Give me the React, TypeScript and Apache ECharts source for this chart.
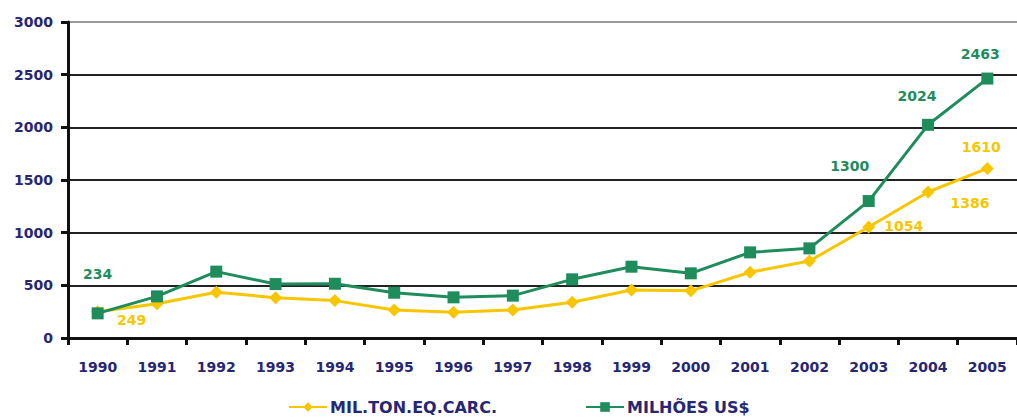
import React, { useEffect, useRef } from "react";
import * as echarts from "echarts";

const years = ["1990","1991","1992","1993","1994","1995","1996","1997","1998","1999","2000","2001","2002","2003","2004","2005"];
const milTon = [249, 325, 435, 383, 355, 266, 244, 266, 339, 456, 448, 624, 731, 1054, 1386, 1610];
const milhoes = [234, 395, 630, 512, 515, 430, 386, 402, 557, 677, 614, 813, 851, 1300, 2024, 2463];
const yellowLabelIdx = [0, 13, 14, 15];
const greenLabelIdx = [0, 13, 14, 15];
const yellowOffsets: Record<number, [number, number]> = { 0: [34, 8], 13: [35, -1], 14: [42, 11], 15: [-6, -21] };
const greenOffsets: Record<number, [number, number]> = { 0: [0, -39], 13: [-19, -35], 14: [-11, -29], 15: [-7, -25] };

const NAVY = "#262673";
const GREEN = "#1f8c5c";
const YELLOW = "#f7c600";
const FONT = "DejaVu Sans";

function buildData(vals: number[], idx: number[], offs: Record<number, [number, number]>, color: string) {
  return vals.map((v, i) => {
    if (!idx.includes(i)) return v;
    return {
      value: v,
      label: {
        show: true,
        position: "inside",
        offset: offs[i],
        formatter: String(v),
        color,
        fontFamily: FONT,
        fontWeight: "bold",
        fontSize: 14,
      },
    };
  });
}

export default function App() {
  const ref = useRef<HTMLDivElement>(null);
  useEffect(() => {
    if (!ref.current) return;
    const chart = echarts.init(ref.current, null, { renderer: "svg" });
    chart.setOption({
      animation: false,
      backgroundColor: "#ffffff",
      grid: { left: 68, top: 22, width: 960, height: 316 },
      legend: {
        left: 288,
        top: 398,
        padding: 0,
        itemGap: 88,
        itemWidth: 38,
        itemHeight: 12,
        textStyle: { color: NAVY, fontFamily: FONT, fontWeight: "bold", fontSize: 16, lineHeight: 18, padding: [0, 0, 0, -2] },
        data: ["MIL.TON.EQ.CARC.", "MILHÕES US$"],
      },
      xAxis: {
        type: "category",
        data: years,
        boundaryGap: true,
        axisLine: { lineStyle: { color: "#111", width: 3 } },
        axisTick: { show: true, length: 7, lineStyle: { color: "#111", width: 3 } },
        axisLabel: { color: NAVY, fontFamily: FONT, fontWeight: "bold", fontSize: 14, margin: 22 },
      },
      yAxis: {
        type: "value",
        min: 0,
        max: 3000,
        interval: 500,
        axisLine: { show: true, lineStyle: { color: "#111", width: 3 } },
        axisTick: { show: true, length: 7, lineStyle: { color: "#111", width: 3 } },
        axisLabel: {
          color: NAVY,
          fontFamily: FONT,
          fontWeight: "bold",
          fontSize: 14,
          margin: 15,
          formatter: (v: number) => String(v),
        },
        splitLine: {
          show: true,
          lineStyle: { color: ["#222", "#222", "#222", "#222", "#222", "#222", "#9a9a9a"], width: 2 },
        },
      },
      series: [
        {
          name: "MIL.TON.EQ.CARC.",
          type: "line",
          data: buildData(milTon, yellowLabelIdx, yellowOffsets, YELLOW),
          symbol: "diamond",
          symbolSize: 13,
          itemStyle: { color: YELLOW },
          lineStyle: { color: YELLOW, width: 3 },
          z: 2,
        },
        {
          name: "MILHÕES US$",
          type: "line",
          data: buildData(milhoes, greenLabelIdx, greenOffsets, GREEN),
          symbol: "rect",
          symbolSize: 12,
          itemStyle: { color: GREEN },
          lineStyle: { color: GREEN, width: 3 },
          z: 3,
        },
      ],
    });
    return () => chart.dispose();
  }, []);
  return (
    <div
      ref={ref}
      style={{ position: "absolute", left: 0, top: 0, width: 1017, height: 420 }}
    />
  );
}
